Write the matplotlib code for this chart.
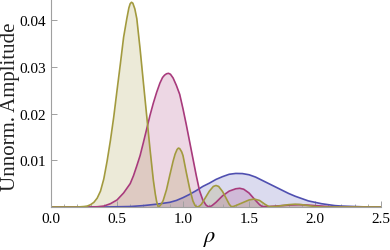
import matplotlib
matplotlib.use("Agg")
import matplotlib.pyplot as plt
from matplotlib.ticker import MultipleLocator, FixedLocator

plt.rcParams["font.family"] = ["Liberation Serif", "DejaVu Serif"]
plt.rcParams["mathtext.fontset"] = "stix"

# olive curve
rho_a = [0.0, 0.20, 0.25, 0.275, 0.30, 0.325, 0.35, 0.375, 0.40, 0.425, 0.45, 0.475,
         0.50, 0.525, 0.55, 0.575, 0.59, 0.60, 0.61, 0.62, 0.635, 0.65, 0.675,
         0.70, 0.725, 0.75, 0.775, 0.79, 0.80, 0.81, 0.82, 0.835, 0.85, 0.875,
         0.90, 0.925, 0.94, 0.955, 0.965, 0.975, 0.99, 1.00, 1.025, 1.05, 1.075,
         1.09, 1.10, 1.11, 1.125, 1.14, 1.17, 1.20, 1.23, 1.25, 1.27, 1.30, 1.33,
         1.35, 1.365, 1.38, 1.40, 1.45, 1.50, 1.54, 1.58, 1.62, 1.65, 1.70, 1.75,
         1.80, 1.85, 1.90, 1.95, 2.00, 2.05, 2.5]
amp_a = [0.0, 0.0, 0.0001, 0.0002, 0.0005, 0.0010, 0.0019, 0.0034, 0.0060, 0.0098,
         0.0142, 0.0192, 0.0249, 0.0305, 0.0363, 0.0404, 0.0426, 0.0435, 0.0438,
         0.0436, 0.0424, 0.0403, 0.0338, 0.0266, 0.0195, 0.0124, 0.0058, 0.0028,
         0.0012, 0.0002, 0.0001, 0.0006, 0.0014, 0.0037, 0.0068, 0.0098, 0.0113,
         0.0123, 0.0126, 0.0125, 0.0118, 0.0110, 0.0074, 0.0040, 0.0013, 0.0004,
         0.0001, 0.0, 0.0002, 0.0006, 0.0020, 0.0034, 0.0044, 0.0046, 0.0044,
         0.0033, 0.0017, 0.0006, 0.0001, 0.0001, 0.0003, 0.0009, 0.0015, 0.0017,
         0.0014, 0.0006, 0.0001, 0.0001, 0.0003, 0.0005, 0.0006, 0.0005, 0.0003,
         0.0001, 0.0, 0.0]

# magenta curve
rho_b = [0.0, 0.30, 0.35, 0.40, 0.45, 0.50, 0.55, 0.60, 0.625, 0.65, 0.675, 0.70,
         0.725, 0.75, 0.775, 0.80, 0.825, 0.845, 0.86, 0.875, 0.89, 0.905, 0.925,
         0.95, 0.975, 1.00, 1.025, 1.05, 1.075, 1.10, 1.125, 1.15, 1.175, 1.19,
         1.205, 1.22, 1.25, 1.30, 1.35, 1.40, 1.43, 1.46, 1.50, 1.55, 1.58, 1.60,
         1.65, 1.70, 1.80, 1.88, 1.95, 2.05, 2.15, 2.5]
amp_b = [0.0, 0.0, 0.00005, 0.0002, 0.0007, 0.0015, 0.0030, 0.0050, 0.0067, 0.0088,
         0.0110, 0.0138, 0.0167, 0.0196, 0.0222, 0.0245, 0.0265, 0.0277, 0.0282,
         0.0285, 0.0286, 0.0284, 0.0276, 0.0260, 0.0241, 0.0210, 0.0176, 0.0140,
         0.0104, 0.0068, 0.0035, 0.0015, 0.0004, 0.0001, 0.0001, 0.0003, 0.0010,
         0.0024, 0.0034, 0.0039, 0.0040, 0.0038, 0.0030, 0.0014, 0.0005, 0.0001,
         0.0001, 0.0002, 0.0004, 0.0005, 0.0004, 0.0002, 0.0, 0.0]

# blue curve
rho_c = [0.0, 0.40, 0.50, 0.60, 0.70, 0.80, 0.90, 0.95, 1.00, 1.05, 1.10, 1.15,
         1.20, 1.25, 1.30, 1.35, 1.40, 1.45, 1.50, 1.55, 1.60, 1.65, 1.70, 1.75,
         1.80, 1.85, 1.90, 1.95, 2.00, 2.05, 2.10, 2.15, 2.20, 2.30, 2.40, 2.5]
amp_c = [0.0, 0.0, 0.00005, 0.0001, 0.0003, 0.0006, 0.0010, 0.0014, 0.0020, 0.0027,
         0.0035, 0.0044, 0.0051, 0.0059, 0.0065, 0.0070, 0.00718, 0.00715, 0.0069,
         0.0064, 0.0057, 0.0050, 0.0043, 0.0036, 0.0029, 0.0023, 0.0018, 0.0013,
         0.0010, 0.0007, 0.0005, 0.0003, 0.0002, 0.0001, 0.0, 0.0]

curves = [
    (rho_c, amp_c, "#4f4fb0"),
    (rho_b, amp_b, "#a83a7c"),
    (rho_a, amp_a, "#a29a3e"),
]

fig = plt.figure(figsize=(3.9, 2.51), dpi=100)
ax = fig.add_axes([51 / 390, 43 / 251, 330 / 390, 208 / 251])

for x, y, col in curves:
    ax.fill_between(x, y, 0, color=col, alpha=0.2, linewidth=0)
    ax.plot(x, y, color=col, linewidth=1.2, solid_joinstyle="round")

ax.set_xlim(0, 2.5)
ax.set_ylim(0, 0.0445)

ax.xaxis.set_major_locator(MultipleLocator(0.5))
ax.xaxis.set_minor_locator(MultipleLocator(0.1))
ax.yaxis.set_major_locator(FixedLocator([0.01, 0.02, 0.03, 0.04]))
ax.xaxis.set_major_formatter(plt.FuncFormatter(lambda v, p: f"{v:.1f}"))
ax.yaxis.set_major_formatter(plt.FuncFormatter(lambda v, p: f"{v:.2f}"))

for s in ["top", "right"]:
    ax.spines[s].set_visible(False)
for s in ["left", "bottom"]:
    ax.spines[s].set_color("#a0a0a0")
    ax.spines[s].set_linewidth(0.8)

ax.tick_params(which="major", direction="in", length=4, width=0.7,
               color="#a0a0a0", labelsize=11, pad=3.5)
ax.tick_params(which="minor", direction="in", length=2.2, width=0.6,
               color="#a0a0a0")

ax.set_xlabel(r"$\rho$", fontsize=16)
ax.xaxis.set_label_coords(0.48, -0.105)
ax.set_ylabel("Unnorm. Amplitude", fontsize=15, color="#222222")
ax.yaxis.set_label_coords(-0.094, 0.485)

fig.savefig("out.png", dpi=100)
